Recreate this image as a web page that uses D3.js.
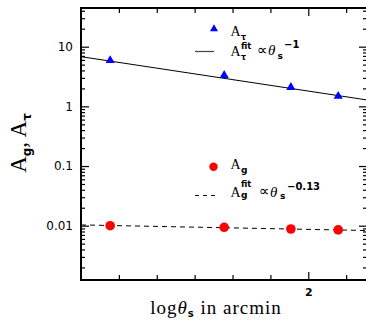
<html>
<head>
<script src="https://d3js.org/d3.v7.min.js"></script>
<style>
body { margin: 0; background: white; }
text { fill: black; }
</style>
</head>
<body>
<svg id="main_vis" width=366 height=322></svg>
<script>

// data (x = log10 theta_s, theta in arcmin)
const logTheta = [1.477, 1.778, 1.954, 2.079];
const aTau = [6.0, 3.37, 2.13, 1.51];
const aG = [0.0100, 0.0094, 0.0088, 0.0085];

// fit lines, end points
const fitX = [1.4, 2.155];
const fitTau = [6.8, 1.28];
const fitG = [0.0103, 0.0083];

// tick labels
const yMajor = [0.01, 0.1, 1, 10];
const yMajorLabels = ["0.01", "0.1", "1", "10"];
const xMajor = [2];
const xMajorLabels = ["2"];

var svg = d3.select("#main_vis");

// plot box (note: "top" is taken by window.top)
var pL = 81, pR = 367, pT = 8, pB = 280;

var x = d3.scaleLinear()
  .domain([1.4, 2.155])
  .range([pL, pR]);

var y = d3.scaleLog()
  .domain([0.00123, 44.5])
  .range([pB, pT]);

var sans = "'DejaVu Sans', sans-serif";
var serif = "'Liberation Serif', 'DejaVu Serif', serif";

// minor ticks
var yMinor = y.ticks().filter(function(d) { return yMajor.indexOf(d) < 0; });
var xMinor = x.ticks(8).filter(function(d) { return d > 1.41 && d < 2.15 && Math.abs(d - 2) > 1e-6; });

function tickAxis(axis, tr) {
  var g = svg.append("g").attr("transform", tr).call(axis);
  g.select(".domain").remove();
  g.selectAll("line").attr("stroke", "black").attr("stroke-width", 1.2);
  g.selectAll("text").attr("font-family", sans).attr("font-size", "12px").attr("fill", "black");
  return g;
}

// left axis
tickAxis(d3.axisLeft(y).tickValues(yMinor).tickSize(-4).tickFormat(""), "translate(" + pL + ",0)");
var yl = tickAxis(d3.axisLeft(y).tickValues(yMajor).tickSize(-8)
  .tickFormat(function(d, i) { return yMajorLabels[i]; }), "translate(" + pL + ",0)");
yl.selectAll("text").attr("x", -8);
// right axis
tickAxis(d3.axisRight(y).tickValues(yMinor).tickSize(-4).tickFormat(""), "translate(" + pR + ",0)");
tickAxis(d3.axisRight(y).tickValues(yMajor).tickSize(-8).tickFormat(""), "translate(" + pR + ",0)");
// bottom axis
tickAxis(d3.axisBottom(x).tickValues(xMinor).tickSize(-5).tickFormat(""), "translate(0," + pB + ")");
var xl = tickAxis(d3.axisBottom(x).tickValues(xMajor).tickSize(-8)
  .tickFormat(function(d, i) { return xMajorLabels[i]; }), "translate(0," + pB + ")");
xl.selectAll("text").attr("y", 8).attr("dy", "0.71em").attr("font-weight", "bold").attr("font-size", "11px");
// top axis
tickAxis(d3.axisTop(x).tickValues(xMinor).tickSize(-5).tickFormat(""), "translate(0," + pT + ")");
tickAxis(d3.axisTop(x).tickValues(xMajor).tickSize(-8).tickFormat(""), "translate(0," + pT + ")");

// frame
svg.append("rect")
  .attr("x", pL).attr("y", pT)
  .attr("width", pR - pL).attr("height", pB - pT)
  .attr("fill", "none").attr("stroke", "black").attr("stroke-width", 2);

// fit lines
svg.append("clipPath").attr("id", "clip")
  .append("rect").attr("x", pL).attr("y", pT).attr("width", pR - pL).attr("height", pB - pT);

var line = d3.line()
  .x(function(d) { return x(d[0]); })
  .y(function(d) { return y(d[1]); });

svg.append("path")
  .datum(d3.zip(fitX, fitTau))
  .attr("clip-path", "url(#clip)")
  .attr("fill", "none").attr("stroke", "black").attr("stroke-width", 1)
  .attr("d", line);

svg.append("path")
  .datum(d3.zip(fitX, fitG))
  .attr("clip-path", "url(#clip)")
  .attr("fill", "none").attr("stroke", "black").attr("stroke-width", 1)
  .attr("stroke-dasharray", "5,4")
  .attr("d", line);

// points
var tri = d3.symbol().type(d3.symbolTriangle).size(36);
svg.selectAll("path.tau")
  .data(d3.zip(logTheta, aTau))
  .enter().append("path")
  .attr("class", "tau")
  .attr("transform", function(d) { return "translate(" + x(d[0]) + "," + (y(d[1]) + 0.5) + ")"; })
  .attr("d", tri)
  .attr("fill", "#0000ff");

svg.selectAll("circle.g")
  .data(d3.zip(logTheta, aG))
  .enter().append("circle")
  .attr("class", "g")
  .attr("cx", function(d) { return x(d[0]); })
  .attr("cy", function(d) { return y(d[1]); })
  .attr("r", 4.8)
  .attr("fill", "#ff0000");

// legend
svg.append("path")
  .attr("transform", "translate(214,29)")
  .attr("d", d3.symbol().type(d3.symbolTriangle).size(28))
  .attr("fill", "#0000ff");
svg.append("line").attr("x1", 195).attr("x2", 214).attr("y1", 51.5).attr("y2", 51.5)
  .attr("stroke", "#444").attr("stroke-width", 1.2);
svg.append("circle").attr("cx", 213.5).attr("cy", 166.7).attr("r", 4.2).attr("fill", "#ff0000");
svg.append("line").attr("x1", 195).attr("x2", 216).attr("y1", 195.5).attr("y2", 195.5)
  .attr("stroke", "black").attr("stroke-width", 1.2).attr("stroke-dasharray", "4,4");

function txt(s, px, py, size, fam, opts) {
  var t = svg.append("text").attr("x", px).attr("y", py)
    .attr("font-family", fam).attr("font-size", size + "px").text(s);
  if (opts && opts.bold) t.attr("font-weight", "bold");
  if (opts && opts.italic) t.attr("font-style", "italic");
  return t;
}

// A_tau
txt("A", 230.5, 35.5, 14, serif);
txt("\u03c4", 241, 39.5, 8, sans, {bold: true});
// A_tau^fit prop theta_s^-1
txt("A", 230.5, 55.5, 14, serif);
txt("fit", 241, 49, 8.5, sans, {bold: true});
txt("\u03c4", 241, 60, 8, sans, {bold: true});
txt("\u221d", 257, 55, 15, sans);
txt("\u03b8", 268, 55, 15, serif, {italic: true});
txt("s", 277.5, 59, 9, sans, {bold: true});
txt("\u22121", 284, 48, 10, sans, {bold: true});

// A_g
txt("A", 230.5, 169, 14, serif);
txt("g", 241, 173, 9, sans, {bold: true});
// A_g^fit prop theta_s^-0.13
txt("A", 230.5, 196.5, 14, serif);
txt("fit", 241, 187, 8.5, sans, {bold: true});
txt("g", 241, 198, 9, sans, {bold: true});
txt("\u221d", 259, 196, 15, sans);
txt("\u03b8", 270, 196.5, 15, serif, {italic: true});
txt("s", 280, 199, 9, sans, {bold: true});
txt("\u22120.13", 287, 190, 10, sans, {bold: true});

// x label
var xlab = svg.append("text")
  .attr("x", 216).attr("y", 314)
  .attr("text-anchor", "middle")
  .attr("font-family", serif).attr("font-size", "19px")
  .attr("letter-spacing", "1px");
xlab.append("tspan").text("log");
xlab.append("tspan").attr("font-style", "italic").text("\u03b8");
xlab.append("tspan").attr("font-family", sans).attr("font-size", "10px").attr("font-weight", "bold").attr("dy", 3).text("s");
xlab.append("tspan").attr("dy", -3).text(" in arcmin");

// y label
var ylab = svg.append("text")
  .attr("transform", "translate(26,143) rotate(-90)")
  .attr("text-anchor", "middle")
  .attr("font-family", serif).attr("font-size", "23px");
ylab.append("tspan").text("A");
ylab.append("tspan").attr("font-family", sans).attr("font-size", "12px").attr("font-weight", "bold").attr("dy", 5).text("g");
ylab.append("tspan").attr("dy", -5).text(", A");
ylab.append("tspan").attr("font-family", sans).attr("font-size", "12px").attr("font-weight", "bold").attr("dy", 5).text("\u03c4");

</script>
</body>
</html>
